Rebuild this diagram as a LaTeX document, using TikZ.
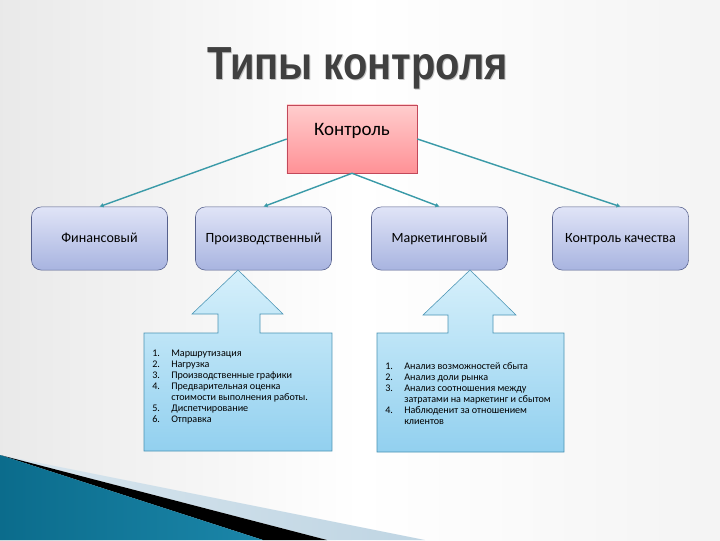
\documentclass[tikz,border=0pt]{standalone}
\usepackage{fontspec}
\setmainfont{Carlito}
\newfontfamily\titlefont{Liberation Sans}
\usetikzlibrary{arrows.meta}
\definecolor{linkcol}{HTML}{3A9AA8}
\definecolor{headline}{HTML}{C2485A}
\definecolor{headtop}{HTML}{FFCDCD}
\definecolor{headbot}{HTML}{FF9196}
\definecolor{kindline}{HTML}{56608C}
\definecolor{kindtop}{HTML}{E0E4F7}
\definecolor{kindbot}{HTML}{A8B4E0}
\definecolor{listline}{HTML}{4A94B4}
\definecolor{listtop}{HTML}{D6F0FB}
\definecolor{listbot}{HTML}{92D0EF}
\definecolor{titlecol}{HTML}{404040}
\definecolor{bandleft}{HTML}{0B6C8C}
\definecolor{bandmid}{HTML}{3DAFD6}
\definecolor{bandright}{HTML}{1B86A9}
\definecolor{bandlight}{HTML}{BFD5E3}
\tikzstyle{head}=[draw=headline, top color=headtop, bottom color=headbot, minimum width=3.25cm, minimum height=1.7cm, text depth=0.5cm, inner sep=0pt, font=\fontsize{13.5}{15}\selectfont]
\tikzstyle{kind}=[draw=kindline, rounded corners=0.25cm, top color=kindtop, bottom color=kindbot, minimum width=3.4cm, minimum height=1.58cm, text height=1.6ex, text depth=0.3ex, font=\fontsize{10}{12}\selectfont]
\tikzstyle{link}=[draw=linkcol, line width=1pt, -{Latex[length=1mm,width=1.2mm]}]
\tikzstyle{listbox}=[draw=listline, top color=listtop, bottom color=listbot]
\tikzstyle{items}=[anchor=north west, inner sep=0pt, align=left, font=\fontsize{7.2}{7.8}\selectfont]
\newcommand{\num}[1]{\makebox[0.475cm][l]{#1}}

\begin{document}
\begin{tikzpicture}[x=0.025cm, y=-0.025cm]
		   \useasboundingbox (0,0) rectangle (720,540);
		   \begin{scope}
			   \shade[left color=gray!17, right color=gray!9, middle color=white] (0,0) rectangle (720,540);
			   \shade[left color=bandlight!60, right color=bandlight] (0,455) -- (425,540) -- (327,540) -- cycle;
			   \fill[black] (0,455) -- (327,540) -- (263,540) -- cycle;
			   \shade[left color=bandleft, middle color=bandmid, right color=bandright] (0,455) -- (263,540) -- (0,540) -- cycle;
		   \end{scope}
		   \begin{scope}
			   \node (shadow) at (358.5,80.5)[anchor=base, text=gray!45, xscale=0.86, font=\titlefont\bfseries\fontsize{33}{36}\selectfont] {Типы контроля};
			   \node (title) at (357.5,79)[anchor=base, text=titlecol, xscale=0.86, font=\titlefont\bfseries\fontsize{33}{36}\selectfont] {Типы контроля};
			   \node (0) at (352,139)[head] {Контроль};
			   \node (1) at (99.5,238.5)[kind] {Финансовый};
			   \node (2) at (263.5,238.5)[kind] {Производственный};
			   \node (3) at (439.5,238.5)[kind] {Маркетинговый};
			   \node (4) at (620.5,238.5)[kind] {Контроль качества};
		   \end{scope}
		   \begin{scope}
			   \path [link] (0.west) -- (1.north);
			   \path [link] (0.south) -- (2.north);
			   \path [link] (0.south) -- (3.north);
			   \path [link] (0.east) -- (4.north);
		   \end{scope}
		   \begin{scope}
			   \path [listbox] (144,451) -- (144,333) -- (218,333) -- (218,314) -- (192,314) -- (238,270) -- (283,314) -- (260,314) -- (260,333) -- (332,333) -- (332,451) -- cycle;
			   \path [listbox] (377,452) -- (377,333) -- (448,333) -- (448,315) -- (423,315) -- (470,270) -- (516,315) -- (493,315) -- (493,333) -- (564,333) -- (564,452) -- cycle;
			   \node (5) at (152,350)[items] {\num{1.}Маршрутизация\\
				   \num{2.}Нагрузка\\
				   \num{3.}Производственные графики\\
				   \num{4.}Предварительная оценка\\
				   \num{}стоимости выполнения работы.\\
				   \num{5.}Диспетчирование\\
				   \num{6.}Отправка};
			   \node (6) at (385,362)[items] {\num{1.}Анализ возможностей сбыта\\
				   \num{2.}Анализ доли рынка\\
				   \num{3.}Анализ соотношения между\\
				   \num{}затратами на маркетинг и сбытом\\
				   \num{4.}Наблюденит за отношением\\
				   \num{}клиентов};
		   \end{scope}
	   \end{tikzpicture}
\end{document}
